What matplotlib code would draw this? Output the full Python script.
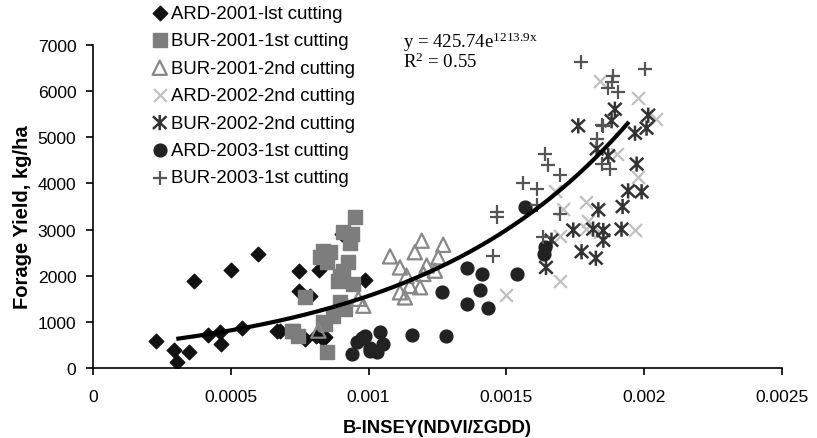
import numpy as np
import matplotlib
matplotlib.use("Agg")
import matplotlib.pyplot as plt
from matplotlib.path import Path

plt.rcParams['mathtext.fontset'] = 'custom'
plt.rcParams['mathtext.rm'] = 'Liberation Serif'
plt.rcParams['mathtext.it'] = 'Liberation Serif'

# values
ard01_x = [0.000227, 0.000295, 0.000306, 0.000348, 0.000366, 0.000418, 0.000461, 0.000463, 0.000501, 0.000539,
           0.000598, 0.000667, 0.000747, 0.000747, 0.000787, 0.000821, 0.000769, 0.000811, 0.000842, 0.000902, 0.000987,
           0.000836, 0.00068]
ard01_y = [590, 400, 120, 340, 1890, 715, 770, 520, 2120, 860,
           2470, 795, 2110, 1660, 1570, 2120, 630, 700, 665, 2900, 1900,
           630, 810]

bur01_x = [0.000951, 0.000908, 0.000939, 0.000933, 0.000836, 0.000860, 0.000824, 0.000848, 0.000927, 0.000908,
           0.000890, 0.000944, 0.000769, 0.000896, 0.000914, 0.000872, 0.000842, 0.000727, 0.000745, 0.000850,
           0.000896, 0.000836, 0.000721]
bur01_y = [3270, 2940, 2900, 2720, 2540, 2510, 2400, 2290, 2290, 2110,
           1890, 1820, 1530, 1420, 1280, 1130, 950, 810, 700, 350,
           2000, 990, 810]

bur01b_x = [0.001193, 0.001271, 0.001078, 0.001168, 0.001253, 0.001114, 0.001211, 0.001241, 0.001138, 0.001199,
            0.001150, 0.001187, 0.001114, 0.001132, 0.000981, 0.000963, 0.000818]
bur01b_y = [2760, 2670, 2420, 2510, 2400, 2180, 2220, 2110, 2000, 2040,
            1780, 1750, 1640, 1530, 1350, 1500, 810]

ard02_x = [0.001840, 0.001979, 0.002045, 0.001900, 0.001979, 0.001791, 0.001707, 0.001797, 0.001840, 0.001967,
           0.001694, 0.001694, 0.001499, 0.001791, 0.001676]
ard02_y = [6230, 5850, 5400, 4640, 4130, 3600, 3450, 3190, 2950, 2990,
           2870, 1890, 1580, 3010, 3840]

bur02_x = [0.001894, 0.001882, 0.001761, 0.002015, 0.002009, 0.001967, 0.001828, 0.001870, 0.001973, 0.001942,
           0.001991, 0.001834, 0.001922, 0.001743, 0.001815, 0.001852, 0.001852, 0.001918, 0.001664, 0.001773,
           0.001825, 0.001644]
bur02_y = [5610, 5360, 5250, 5480, 5200, 5090, 4750, 4600, 4420, 3840,
           3820, 3430, 3500, 2990, 3010, 2980, 2770, 3010, 2770, 2520,
           2380, 2180]

ard03_x = [0.000939, 0.000957, 0.000987, 0.001005, 0.001005, 0.001029, 0.001041, 0.001053, 0.001156, 0.001281,
           0.001265, 0.001356, 0.001410, 0.001404, 0.001356, 0.001434, 0.001537, 0.001567, 0.001640, 0.001638,
           0.000975]
ard03_y = [300, 560, 690, 375, 435, 340, 770, 520, 715, 690,
           1640, 2160, 2040, 1690, 1390, 1290, 2040, 3480, 2620, 2470,
           640]

bur03_x = [0.001450, 0.001465, 0.001465, 0.001561, 0.001610, 0.001610, 0.001634, 0.001640, 0.001652, 0.001694,
           0.001694, 0.001770, 0.001828, 0.001846, 0.001846, 0.001852, 0.001870, 0.001876, 0.001882, 0.001888,
           0.001906, 0.002003]
bur03_y = [2420, 3390, 3270, 4010, 3880, 3530, 2850, 4640, 4400, 4180,
           3340, 6640, 4960, 5270, 4420, 5250, 6080, 4310, 6190, 6340,
           5980, 6480]

labels = ["ARD-2001-lst cutting", "BUR-2001-1st cutting", "BUR-2001-2nd cutting", "ARD-2002-2nd cutting",
          "BUR-2002-2nd cutting", "ARD-2003-1st cutting", "BUR-2003-1st cutting"]

# trend curve as drawn (label shows the printed equation)
trend_a = 425.74
trend_k = 1300.0
trend_xmin, trend_xmax = 0.00031, 0.00194

# excel-like asterisk: an x with a vertical bar
star = Path([(0, -0.9), (0, 0.9), (-0.8, -0.75), (0.8, 0.75), (-0.8, 0.75), (0.8, -0.75)],
            [Path.MOVETO, Path.LINETO, Path.MOVETO, Path.LINETO, Path.MOVETO, Path.LINETO])

fig = plt.figure(figsize=(8.17, 4.39), dpi=100)
ax = fig.add_axes([0.1138, 0.1595, 0.8432, 0.7355])

ax.scatter(ard01_x, ard01_y, marker='D', s=55, color='#111111', label=labels[0], zorder=2)
ax.scatter(bur01_x, bur01_y, marker='s', s=105, color='#7d7d7d', label=labels[1], zorder=2)
ax.scatter(bur01b_x, bur01b_y, marker='^', s=105, facecolors='none', edgecolors='#888888', linewidths=1.6,
           label=labels[2], zorder=2)
ax.scatter(ard02_x, ard02_y, marker='x', s=85, color='#c0c0c0', linewidths=1.6, label=labels[3], zorder=2)
ax.scatter(bur02_x, bur02_y, marker=star, s=120, facecolors='none', edgecolors='#333333', linewidths=1.8,
           label=labels[4], zorder=2)
ax.scatter(ard03_x, ard03_y, marker='o', s=85, color='#222222', label=labels[5], zorder=2)
ax.scatter(bur03_x, bur03_y, marker='+', s=110, color='#555555', linewidths=1.6, label=labels[6], zorder=2)

tx = np.linspace(trend_xmin, trend_xmax, 200)
ax.plot(tx, trend_a * np.exp(trend_k * tx), color='black', lw=3, zorder=3)

ax.set_xlim(0, 0.0025)
ax.set_ylim(0, 7000)
ax.set_xticks([0, 0.0005, 0.001, 0.0015, 0.002, 0.0025])
ax.set_xticklabels(['0', '0.0005', '0.001', '0.0015', '0.002', '0.0025'])
ax.set_yticks(range(0, 7001, 1000))
for sp in ['top', 'right']:
    ax.spines[sp].set_visible(False)
for sp in ['left', 'bottom']:
    ax.spines[sp].set_linewidth(1.2)
ax.tick_params(direction='out', length=5, width=1.2, labelsize=12.6)
ax.tick_params(axis='x', pad=10)
ax.tick_params(axis='y', pad=7)
for t in ax.get_xticklabels() + ax.get_yticklabels():
    t.set_family('Liberation Sans')

ax.set_xlabel('B-INSEY(NDVI/ΣGDD)', fontsize=13.3, fontweight='bold', family='Liberation Sans', va='center')
ax.xaxis.set_label_coords(0.5, -0.183)
ax.set_ylabel('Forage Yield, kg/ha', fontsize=14.5, fontweight='bold', family='Liberation Sans', va='center')
ax.yaxis.set_label_coords(-0.103, 0.47)

fig.legend(loc='upper left', bbox_to_anchor=(0.175, 1.004), frameon=False,
           prop={'family': 'Liberation Sans', 'size': 13.4}, handletextpad=0.1, labelspacing=0.56,
           handlelength=1.0, borderaxespad=0)

fig.text(0.493, 0.931, 'y = 425.74e$^{\\mathrm{1213.9x}}$\nR$^{\\mathrm{2}}$ = 0.55',
         family='Liberation Serif', fontsize=13.6, va='top', ha='left', linespacing=0.95)

fig.savefig('out.png', dpi=100)
